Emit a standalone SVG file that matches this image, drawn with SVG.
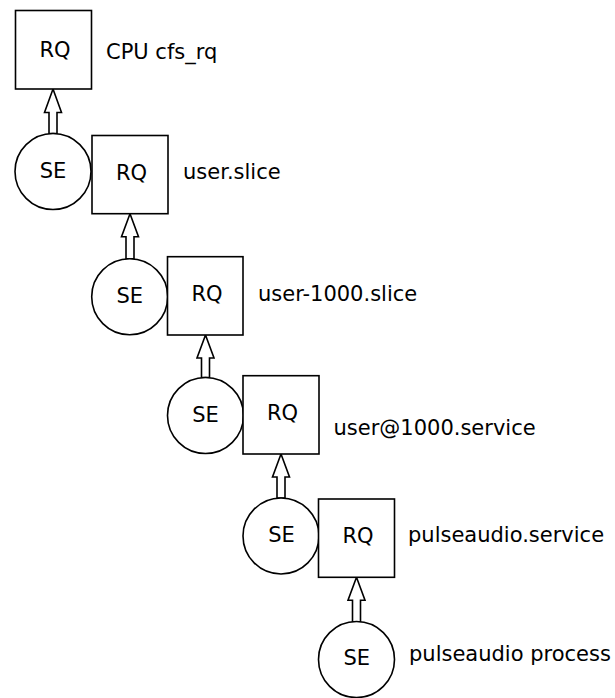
<svg xmlns="http://www.w3.org/2000/svg" width="615" height="698" viewBox="0 0 615 698">
<style>
.n{fill:#fff;stroke:#000;stroke-width:1.6}
.t{font-family:"DejaVu Sans",sans-serif;font-size:21px;fill:#000}
.c{text-anchor:middle}
.a{fill:#fff;stroke:#000;stroke-width:1.6;stroke-linejoin:miter}
</style>
<rect width="615" height="698" fill="#fff"/>
<g id="connectors">
<path class="a" d="M53,89 L61.5,112.5 L57,112.5 L57,133.5 L49,133.5 L49,112.5 L44.5,112.5 Z"/>
<path class="a" d="M130,213.7 L138.5,236.7 L134,236.7 L134,258.7 L126,258.7 L126,236.7 L121.5,236.7 Z"/>
<path class="a" d="M205.5,335 L214,358 L209.5,358 L209.5,377.5 L201.5,377.5 L201.5,358 L197,358 Z"/>
<path class="a" d="M281,454 L289.5,477 L285,477 L285,498 L277,498 L277,477 L272.5,477 Z"/>
<path class="a" d="M356.5,577.3 L365,600.3 L360.5,600.3 L360.5,621.7 L352.5,621.7 L352.5,600.3 L348,600.3 Z"/>
</g>
<g id="rq1"><rect class="n" x="15.5" y="10.5" width="76" height="78.5"/><text class="t c" x="55" y="57">RQ</text></g>
<g id="label1"><text class="t" x="106" y="59">CPU cfs_rq</text></g>
<g id="se1"><circle class="n" cx="53" cy="171.5" r="38"/><text class="t c" x="53" y="177.5">SE</text></g>
<g id="rq2"><rect class="n" x="92" y="135.5" width="76" height="78.2"/><text class="t c" x="131.5" y="180">RQ</text></g>
<g id="label2"><text class="t" x="183" y="179">user.slice</text></g>
<g id="se2"><circle class="n" cx="129.7" cy="296.7" r="38"/><text class="t c" x="129.7" y="302.5">SE</text></g>
<g id="rq3"><rect class="n" x="167.5" y="256.7" width="75.5" height="78.3"/><text class="t c" x="207" y="301">RQ</text></g>
<g id="label3"><text class="t" x="258" y="301">user-1000.slice</text></g>
<g id="se3"><circle class="n" cx="205.5" cy="415.5" r="38"/><text class="t c" x="205.5" y="422">SE</text></g>
<g id="rq4"><rect class="n" x="243" y="375.7" width="76" height="78.3"/><text class="t c" x="282.5" y="420">RQ</text></g>
<g id="label4"><text class="t" x="333.5" y="435">user@1000.service</text></g>
<g id="se4"><circle class="n" cx="281" cy="536" r="38"/><text class="t c" x="281.5" y="542">SE</text></g>
<g id="rq5"><rect class="n" x="318.5" y="499" width="76" height="78.3"/><text class="t c" x="358" y="543">RQ</text></g>
<g id="label5"><text class="t" x="408" y="542">pulseaudio.service</text></g>
<g id="se5"><circle class="n" cx="356.5" cy="659.5" r="38"/><text class="t c" x="356.7" y="665">SE</text></g>
<g id="label6"><text class="t" x="409" y="661">pulseaudio process</text></g>
</svg>
